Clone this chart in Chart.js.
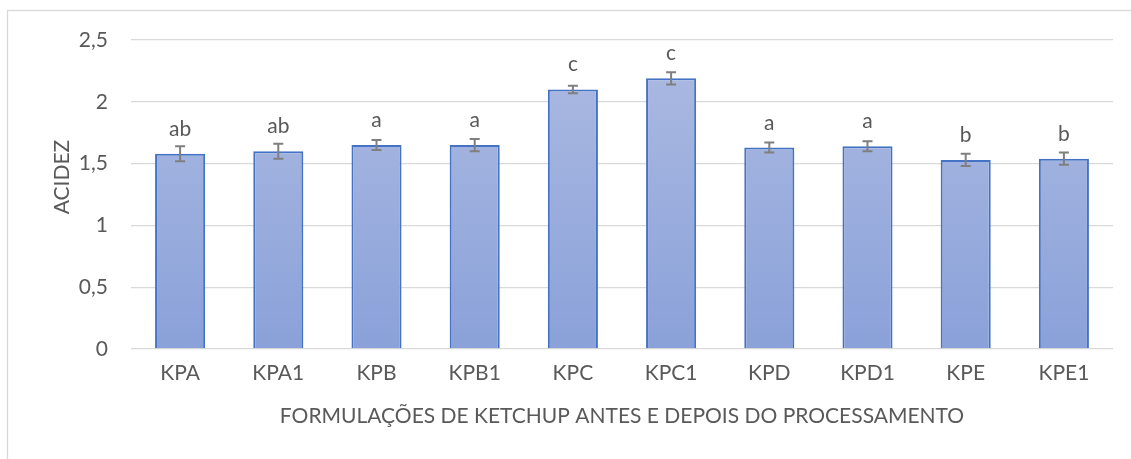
<!DOCTYPE html>
<html>
<head>
<meta charset="utf-8">
<script src="https://cdn.jsdelivr.net/npm/chart.js@4.4.1/dist/chart.umd.min.js"></script>
<style>
  html, body { margin: 0; padding: 0; background: #fff; }
  #wrap { width: 1131px; height: 459px; }
</style>
</head>
<body>
<div id="wrap"><canvas id="grafico" width="1131" height="459"></canvas></div>
<script>
    // dados
    const categorias = ['KPA', 'KPA1', 'KPB', 'KPB1', 'KPC', 'KPC1', 'KPD', 'KPD1', 'KPE', 'KPE1'];
    const acidez = [1.58, 1.60, 1.65, 1.65, 2.10, 2.19, 1.63, 1.64, 1.53, 1.54];
    const erro = [0.06, 0.06, 0.04, 0.05, 0.03, 0.05, 0.04, 0.04, 0.05, 0.05];
    const letras = ['ab', 'ab', 'a', 'a', 'c', 'c', 'a', 'a', 'b', 'b'];
    const yTicks = [0, 0.5, 1, 1.5, 2, 2.5];

    const fonte = 'Lato';
    const tam = 21;
    const corTexto = '#595959';

    // borda da área do gráfico
    const borda = {
        id: 'borda',
        beforeDraw(chart) {
            const ctx = chart.ctx;
            ctx.save();
            ctx.strokeStyle = '#d9d9d9';
            ctx.lineWidth = 1.3;
            ctx.strokeRect(7.5, 10.5, 1200, 500);
            ctx.restore();
        }
    };

    // barras de erro + letras + título do eixo y
    const extras = {
        id: 'extras',
        afterDatasetsDraw(chart) {
            const ctx = chart.ctx;
            const x = chart.scales.x, y = chart.scales.y;
            ctx.save();
            ctx.strokeStyle = '#7f7f7f';
            ctx.lineWidth = 2;
            acidez.forEach((v, i) => {
                const px = x.getPixelForValue(i);
                const yt = y.getPixelForValue(v + erro[i]);
                const yb = y.getPixelForValue(v - erro[i]);
                ctx.beginPath();
                ctx.moveTo(px, yt); ctx.lineTo(px, yb);
                ctx.moveTo(px - 5, yt); ctx.lineTo(px + 5, yt);
                ctx.moveTo(px - 5, yb); ctx.lineTo(px + 5, yb);
                ctx.stroke();
                ctx.fillStyle = corTexto;
                ctx.font = tam + 'px ' + fonte;
                ctx.textAlign = 'center';
                ctx.textBaseline = 'alphabetic';
                ctx.fillText(letras[i], px, y.getPixelForValue(v) - 18);
            });
            ctx.translate(62, 177);
            ctx.rotate(-Math.PI / 2);
            ctx.textAlign = 'center';
            ctx.textBaseline = 'middle';
            ctx.fillStyle = corTexto;
            ctx.font = tam + 'px ' + fonte;
            ctx.fillText('ACIDEZ', 0, 0);
            ctx.restore();
        }
    };

    function preenchimento(c) {
        const area = c.chart.chartArea;
        if (!area) return '#9aaedd';
        const g = c.chart.ctx.createLinearGradient(0, area.top, 0, area.bottom);
        g.addColorStop(0, '#adbbe2');
        g.addColorStop(1, '#8aa1d9');
        return g;
    }

    myChart = new Chart(document.getElementById('grafico').getContext('2d'), {
        type: 'bar',
        data: {
            labels: categorias,
            datasets: [{
                data: acidez,
                backgroundColor: preenchimento,
                borderColor: '#4472c4',
                borderWidth: 2,
                borderSkipped: 'bottom',
                categoryPercentage: 1,
                barPercentage: 0.51
            }]
        },
        options: {
            responsive: false,
            devicePixelRatio: 1,
            animation: false,
            layout: { padding: { left: 8, right: 18, top: 40, bottom: 0 } },
            plugins: { legend: { display: false }, tooltip: { enabled: false } },
            scales: {
                y: {
                    min: 0, max: 2.5,
                    afterBuildTicks: s => { s.ticks = yTicks.map(v => ({ value: v })); },
                    afterFit: s => { s.width = 123; },
                    ticks: {
                        padding: 23,
                        color: corTexto,
                        font: { family: fonte, size: tam },
                        callback: v => String(v).replace('.', ',')
                    },
                    grid: { color: '#d9d9d9', lineWidth: 1.3, drawTicks: false },
                    border: { display: false }
                },
                x: {
                    afterFit: s => { s.height = 110; },
                    ticks: { padding: 12, color: corTexto, font: { family: fonte, size: tam } },
                    grid: { display: false, drawTicks: false },
                    border: { display: false },
                    title: {
                        display: true,
                        text: 'FORMULAÇÕES DE KETCHUP ANTES E DEPOIS DO PROCESSAMENTO',
                        color: corTexto,
                        font: { family: fonte, size: tam },
                        padding: { top: 0, bottom: 30 }
                    }
                }
            }
        },
        plugins: [borda, extras]
    });
</script>
</body>
</html>
